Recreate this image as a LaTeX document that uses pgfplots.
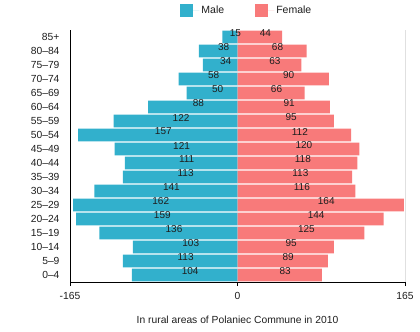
\documentclass[border=0pt]{standalone}
\usepackage{fontspec}
\setmainfont{Liberation Sans}
\usepackage{pgfplots}
\pgfplotsset{compat=1.18}
\usepackage{pgfplotstable}
\definecolor{male}{RGB}{50,176,204}
\definecolor{female}{RGB}{248,122,122}
\definecolor{txt}{RGB}{30,30,30}
\pgfplotstableread{
y m f
0 104 83
1 113 89
2 103 95
3 136 125
4 159 144
5 162 164
6 141 116
7 113 113
8 111 118
9 121 120
10 157 112
11 122 95
12 88 91
13 50 66
14 58 90
15 34 63
16 38 68
17 15 44
}\data
\begin{document}
\begin{tikzpicture}
\begin{axis}[
  x=1.015pt, y=14pt,
  xmin=-165, xmax=165, ymin=-0.5, ymax=17.5,
  axis x line=bottom, axis y line=left,
  axis line style={-, black},
  xtick={-165,0,165},
  tick align=outside,
  major tick length=4pt,
  x tick style={black},
  ytick={0,...,17},
  y tick style={draw=none},
  yticklabels={0--4,5--9,10--14,15--19,20--24,25--29,30--34,35--39,40--44,45--49,50--54,55--59,60--64,65--69,70--74,75--79,80--84,85+},
  yticklabel style={xshift=-3pt, font=\fontsize{10.3}{12}\selectfont, text=txt},
  xticklabel style={font=\fontsize{10.3}{12}\selectfont, text=txt, yshift=-3pt},
  /pgf/number format/assume math mode=true,
  xbar, bar width=0.92, bar shift=0pt,
  xlabel={In rural areas of Polaniec Commune in 2010},
  xlabel style={at={(axis description cs:0.5,0)}, anchor=center, yshift=-38pt, font=\fontsize{10.3}{12}\selectfont, text=txt},
  legend style={at={(0.528,1)}, anchor=south, yshift=11pt, draw=none, legend columns=2,
    font=\fontsize{10.5}{12}\selectfont, text=txt,
    /tikz/every even column/.append style={column sep=29pt}},
  clip=false,
  nodes near coords={\pgfmathprintnumber{\pgfplotspointmeta}},
  visualization depends on=rawx \as \rx,
  every node near coord/.append style={anchor=center, font=\fontsize{10}{11}\selectfont, text=txt,
    xshift={(-0.5075*\rx+5.5)*1pt}, yshift=3.5pt},
]
\draw[black!12] (axis cs:165,-0.5) -- (axis cs:165,17.5);
\addplot[fill=male, draw=none, point meta=explicit,
  legend image code/.code={\fill[male] (0pt,-6.5pt) rectangle (13pt,6.5pt); \path (0pt,0pt) -- (19pt,0pt);}]
  table[x expr=-\thisrow{m}, y=y, meta=m] {\data};
\addlegendentry{Male}
\addplot[fill=female, draw=none, point meta=explicit,
  legend image code/.code={\fill[female] (0pt,-6.5pt) rectangle (13pt,6.5pt); \path (0pt,0pt) -- (19pt,0pt);}]
  table[x=f, y=y, meta=f] {\data};
\addlegendentry{Female}
\end{axis}
\pgfresetboundingbox
\path ([shift={(-70pt,-49pt)}]current axis.south west) rectangle ([shift={(15pt,30pt)}]current axis.north east);
\end{tikzpicture}
\end{document}
